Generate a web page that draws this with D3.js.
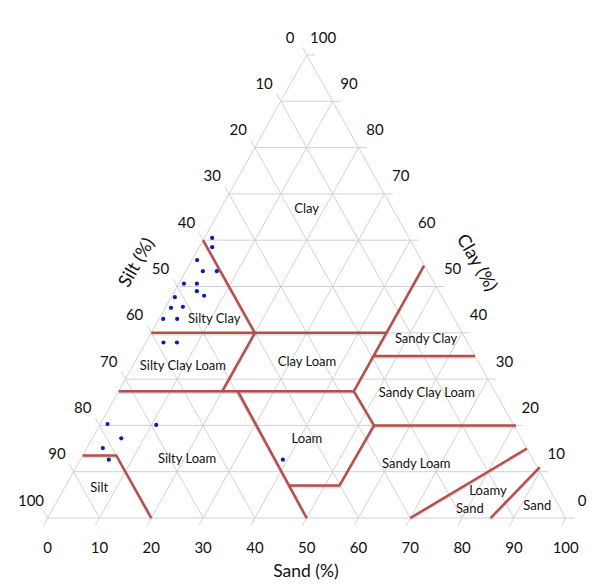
<!DOCTYPE html>
<html>
<head>
<meta charset="utf-8">
<script src="https://cdn.jsdelivr.net/npm/d3@7"></script>
<style>
html, body { margin: 0; padding: 0; background: #fff; }
svg { display: block; }
text { font-family: Lato, "Open Sans", sans-serif; fill: #111; text-anchor: middle; dominant-baseline: central; }
</style>
</head>
<body>
<svg width="600" height="585"></svg>
<script>
// all points are [sand, clay], silt is whatever is left
var gridValues = [0, 10, 20, 30, 40, 50, 60, 70, 80, 90, 100];
var tickOverhang = 1.6;

var boundaries = [
    [[0, 60], [20, 40]],
    [[0, 40], [45.4, 40]],
    [[45.4, 54.5], [45.4, 27.4], [53, 20], [52.8, 7], [43, 7]],
    [[0, 27.4], [45.4, 27.4]],
    [[20, 40], [20, 27.4]],
    [[23, 27.4], [50, 0]],
    [[53, 20], [80.4, 20]],
    [[45.5, 35], [65, 35]],
    [[0, 13.5], [6.5, 13.5], [20, 0]],
    [[70, 0], [85, 15]],
    [[85.5, 0], [89.5, 11]]
];

var sampleSand = [1.5, 2.5, 1, 3.3, 6, 1, 3.5, 4.3, 6.2, 0.7, 1.1, 3.3, 0.8, 3.5, 3.4, 6, 1.4, 10.9, 5.6, 3.1, 5.5, 39.1];
var sampleClay = [60.5, 58.5, 55.7, 53.3, 53.3, 50.6, 50.6, 49, 48, 47.7, 45.4, 45.6, 43, 43, 37.9, 37.9, 20.3, 20.1, 17.2, 15.1, 12.6, 12.6];

var regionNames = ["Clay", "Silty Clay", "Silty Clay Loam", "Clay Loam", "Sandy Clay", "Sandy Clay Loam", "Loam", "Silty Loam", "Silt", "Sandy Loam", "Loamy", "Sand", "Sand"];
var regionSand = [16.5, 10.6, 9.6, 33.1, 53.6, 59.6, 41.4, 20.4, 6.6, 65.2, 82, 80.4, 93.1];
var regionClay = [67, 43.1, 33, 33.9, 38.9, 27.2, 17.3, 13, 6.7, 11.9, 6, 2.2, 2.8];

var x = d3.scaleLinear().domain([0, 100]).range([47.7, 565.7]);
var y = d3.scaleLinear().domain([0, 100]).range([518, 55]);

function px(d) { return x(d[0] + d[1] / 2); }
function py(d) { return y(d[1]); }

var line = d3.line().x(px).y(py);
var svg = d3.select("svg");

// grid, each family overshoots one edge to make the tick
var gridLines = [];
gridValues.forEach(function(v) {
    gridLines.push([[0, v], [100 - v + tickOverhang, v]]);              // clay
    gridLines.push([[v, -tickOverhang], [v, 100 - v]]);                 // sand
    gridLines.push([[-tickOverhang, 100 - v + tickOverhang], [100 - v, 0]]); // silt
});

svg.append("g").selectAll("path").data(gridLines).enter().append("path")
    .attr("d", line)
    .attr("fill", "none")
    .attr("stroke", "#d2d2d2")
    .attr("stroke-width", 1);

// soft shadow under the red lines
svg.append("g").selectAll("path").data(boundaries).enter().append("path")
    .attr("d", line)
    .attr("transform", "translate(0,1.5)")
    .attr("fill", "none")
    .attr("stroke", "#999")
    .attr("stroke-opacity", 0.35)
    .attr("stroke-width", 2.5);

svg.append("g").selectAll("path").data(boundaries).enter().append("path")
    .attr("d", line)
    .attr("fill", "none")
    .attr("stroke", "#b64f4c")
    .attr("stroke-width", 2.5)
    .attr("stroke-linejoin", "round");

svg.append("g").selectAll("circle").data(sampleSand).enter().append("circle")
    .attr("cx", function(d, i) { return px([d, sampleClay[i]]); })
    .attr("cy", function(d, i) { return py([d, sampleClay[i]]); })
    .attr("r", 2.1)
    .attr("fill", "#0a1cb4");

svg.append("g").selectAll("text").data(regionNames).enter().append("text")
    .attr("x", function(d, i) { return px([regionSand[i], regionClay[i]]); })
    .attr("y", function(d, i) { return py([regionSand[i], regionClay[i]]); })
    .attr("font-size", 13)
    .text(function(d) { return d; });

// tick labels on the three sides
var ticks = svg.append("g").attr("font-size", 15);
ticks.selectAll(".sand").data(gridValues).enter().append("text")
    .attr("x", function(d) { return px([d, 0]); })
    .attr("y", 546.5)
    .text(function(d) { return d; });
ticks.selectAll(".silt").data(gridValues).enter().append("text")
    .attr("x", function(d) { return px([0, 100 - d]) - 16.7; })
    .attr("y", function(d) { return py([0, 100 - d]) - 18.5; })
    .text(function(d) { return d; });
ticks.selectAll(".clay").data(gridValues).enter().append("text")
    .attr("x", function(d) { return px([100 - d, d]) + 16.4; })
    .attr("y", function(d) { return py([100 - d, d]) - 18.5; })
    .text(function(d) { return d; });

svg.append("text").attr("x", 306).attr("y", 570).attr("font-size", 17.5).text("Sand (%)");
svg.append("text").attr("transform", "translate(135.5,262) rotate(-60)").attr("font-size", 18).text("Silt (%)");
svg.append("text").attr("transform", "translate(478,262) rotate(60)").attr("font-size", 18).text("Clay (%)");
</script>
</body>
</html>
